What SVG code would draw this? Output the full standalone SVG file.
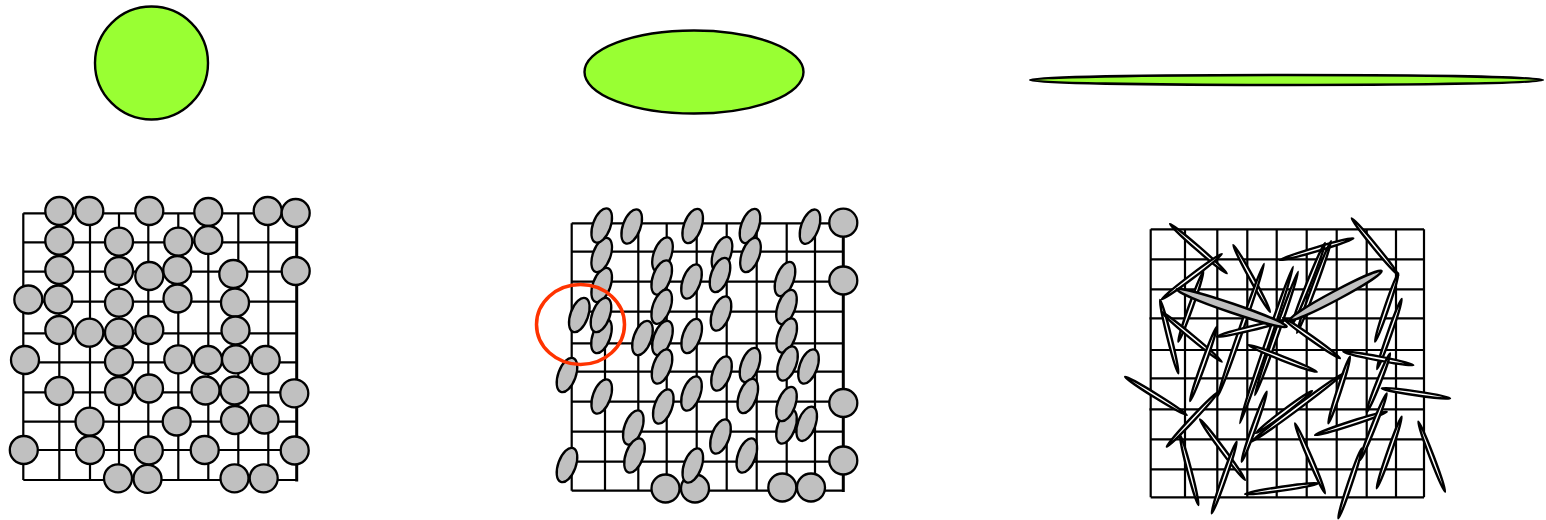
<svg xmlns="http://www.w3.org/2000/svg" width="1546" height="520" viewBox="0 0 1546 520">
<style>
.green{fill:#99ff33;stroke:#000;stroke-width:2.4}
.grid{fill:none;stroke:#000;stroke-width:2.2}
.edge{fill:none;stroke:#000;stroke-width:3}
.c{fill:#c0c0c0;stroke:#000;stroke-width:2.3}
.e{fill:#c0c0c0;stroke:#000;stroke-width:2.3}
.n{fill:#fff;stroke:#000;stroke-width:2.4}
.w{fill:#c0c0c0;stroke:#000;stroke-width:2.4}
.ring{fill:none;stroke:#ff3300;stroke-width:3.5}
</style>
<rect width="1546" height="520" fill="#fff"/>

<g id="shape-sphere"><circle class="green" cx="151.5" cy="63" r="56.5"/></g>
<g id="shape-ellipse"><ellipse class="green" cx="694" cy="72" rx="109.5" ry="41.5"/></g>
<g id="shape-needle"><ellipse class="green" cx="1286.5" cy="80" rx="256.5" ry="5"/></g>

<g id="panel-isotropic">
<path class="grid" d="M23.3 213.3V480M59.3 213.3V480M90 213.3V480M119 213.3V480M148.3 213.3V480M178.3 213.3V480M208.3 213.3V480M238.3 213.3V480M268.3 213.3V480M23.3 213.3H296.7M23.3 242.3H296.7M23.3 271.7H296.7M23.3 301.7H296.7M23.3 333.3H296.7M23.3 362.3H296.7M23.3 392.3H296.7M23.3 421.7H296.7M23.3 450H296.7M23.3 480H296.7"/>
<path class="edge" d="M296.7 212V481.5"/>
<circle class="c" cx="59.3" cy="211" r="14"/><circle class="c" cx="89.3" cy="211" r="14"/><circle class="c" cx="149.3" cy="211" r="14"/><circle class="c" cx="208.3" cy="212" r="14"/><circle class="c" cx="267.7" cy="211" r="14"/><circle class="c" cx="295.7" cy="213" r="14"/>
<circle class="c" cx="59.3" cy="240.7" r="14"/><circle class="c" cx="119" cy="241.7" r="14"/><circle class="c" cx="178.3" cy="241.7" r="14"/><circle class="c" cx="208.3" cy="240" r="14"/>
<circle class="c" cx="59.3" cy="270" r="14"/><circle class="c" cx="119" cy="271" r="14"/><circle class="c" cx="149.3" cy="276" r="14"/><circle class="c" cx="177.3" cy="270" r="14"/><circle class="c" cx="233.3" cy="274" r="14"/><circle class="c" cx="295.7" cy="271" r="14"/>
<circle class="c" cx="28.3" cy="299.5" r="14"/><circle class="c" cx="58.3" cy="299.5" r="14"/><circle class="c" cx="119" cy="302.7" r="14"/><circle class="c" cx="177.5" cy="298.5" r="14"/><circle class="c" cx="235" cy="302.7" r="14"/>
<circle class="c" cx="59.3" cy="330" r="14"/><circle class="c" cx="89.3" cy="332.7" r="14"/><circle class="c" cx="119" cy="332.7" r="14"/><circle class="c" cx="149.3" cy="330" r="14"/><circle class="c" cx="235.5" cy="330.5" r="14"/>
<circle class="c" cx="25" cy="360" r="14"/><circle class="c" cx="119" cy="361.7" r="14"/><circle class="c" cx="178.3" cy="359.3" r="14"/><circle class="c" cx="208" cy="360" r="14"/><circle class="c" cx="236" cy="359.3" r="14"/><circle class="c" cx="265.7" cy="360" r="14"/>
<circle class="c" cx="59.3" cy="391" r="14"/><circle class="c" cx="119" cy="391" r="14"/><circle class="c" cx="149" cy="388.5" r="14"/><circle class="c" cx="205.5" cy="390.5" r="14"/><circle class="c" cx="234.5" cy="390.5" r="14"/><circle class="c" cx="294.3" cy="393.3" r="14"/>
<circle class="c" cx="89.5" cy="421.7" r="14"/><circle class="c" cx="176.7" cy="421.5" r="14"/><circle class="c" cx="235" cy="420" r="14"/><circle class="c" cx="264.5" cy="419.5" r="14"/>
<circle class="c" cx="23.8" cy="450" r="14"/><circle class="c" cx="90" cy="450" r="14"/><circle class="c" cx="148.8" cy="450.5" r="14"/><circle class="c" cx="204.7" cy="450" r="14"/><circle class="c" cx="294.7" cy="450.5" r="14"/>
<circle class="c" cx="118" cy="478.3" r="14"/><circle class="c" cx="147.5" cy="478.8" r="14"/><circle class="c" cx="234.5" cy="478.3" r="14"/><circle class="c" cx="263.7" cy="478.3" r="14"/>
</g>

<g id="panel-aligned">
<path class="grid" d="M571.7 223.3V490.7M605 223.3V490.7M638.3 223.3V490.7M666.7 223.3V490.7M696.7 223.3V490.7M726.7 223.3V490.7M756.7 223.3V490.7M786.7 223.3V490.7M815 223.3V490.7M571.7 223.3H843.3M571.7 251.7H843.3M571.7 281.7H843.3M571.7 311.7H843.3M571.7 343.3H843.3M571.7 371.7H843.3M571.7 401.7H843.3M571.7 431.7H843.3M571.7 461.7H843.3M571.7 490.7H843.3"/>
<path class="edge" d="M843.3 222V492"/>
<circle class="c" cx="843.3" cy="222.7" r="14"/><circle class="c" cx="843.3" cy="280.5" r="14"/><circle class="c" cx="843.3" cy="403" r="14"/><circle class="c" cx="843.3" cy="460.5" r="14"/>
<circle class="c" cx="665.5" cy="488.5" r="14"/><circle class="c" cx="695" cy="488.5" r="14"/><circle class="c" cx="782.3" cy="487.5" r="14"/><circle class="c" cx="811" cy="487.5" r="14"/>
<g class="e">
<ellipse cx="601.7" cy="285" rx="8.8" ry="18" transform="rotate(20 601.7 285)"/>
<ellipse cx="601.7" cy="255" rx="8.8" ry="18" transform="rotate(20 601.7 255)"/>
<ellipse cx="601.7" cy="225.5" rx="8.8" ry="18" transform="rotate(20 601.7 225.5)"/>
<ellipse cx="631.7" cy="226.5" rx="8.8" ry="18" transform="rotate(20 631.7 226.5)"/>
<ellipse cx="692.7" cy="226" rx="8.8" ry="18" transform="rotate(20 692.7 226)"/>
<ellipse cx="750" cy="226" rx="8.8" ry="18" transform="rotate(20 750 226)"/>
<ellipse cx="810" cy="226.7" rx="8.8" ry="18" transform="rotate(20 810 226.7)"/>
<ellipse cx="662.5" cy="254.5" rx="8.8" ry="18" transform="rotate(20 662.5 254.5)"/>
<ellipse cx="722" cy="254" rx="8.8" ry="18" transform="rotate(20 722 254)"/>
<ellipse cx="750.5" cy="255" rx="8.8" ry="18" transform="rotate(20 750.5 255)"/>
<ellipse cx="661.7" cy="277.5" rx="8.8" ry="18" transform="rotate(20 661.7 277.5)"/>
<ellipse cx="691.5" cy="281.5" rx="8.8" ry="18" transform="rotate(20 691.5 281.5)"/>
<ellipse cx="720" cy="275" rx="8.8" ry="18" transform="rotate(20 720 275)"/>
<ellipse cx="785" cy="279" rx="8.8" ry="18" transform="rotate(20 785 279)"/>
<ellipse cx="661.7" cy="306.7" rx="8.8" ry="18" transform="rotate(20 661.7 306.7)"/>
<ellipse cx="721" cy="313.5" rx="8.8" ry="18" transform="rotate(20 721 313.5)"/>
<ellipse cx="786.5" cy="307" rx="8.8" ry="18" transform="rotate(20 786.5 307)"/>
<ellipse cx="601.5" cy="336" rx="8.8" ry="18" transform="rotate(20 601.5 336)"/>
<ellipse cx="579.3" cy="315" rx="8.8" ry="18" transform="rotate(20 579.3 315)"/>
<ellipse cx="601" cy="315" rx="8.8" ry="18" transform="rotate(20 601 315)"/>
<ellipse cx="642.5" cy="338" rx="8.8" ry="18" transform="rotate(20 642.5 338)"/>
<ellipse cx="662.5" cy="338" rx="8.8" ry="18" transform="rotate(20 662.5 338)"/>
<ellipse cx="691.7" cy="336" rx="8.8" ry="18" transform="rotate(20 691.7 336)"/>
<ellipse cx="786.7" cy="335.5" rx="8.8" ry="18" transform="rotate(20 786.7 335.5)"/>
<ellipse cx="567" cy="375" rx="8.8" ry="18" transform="rotate(20 567 375)"/>
<ellipse cx="662" cy="366.5" rx="8.8" ry="18" transform="rotate(20 662 366.5)"/>
<ellipse cx="721.5" cy="373.5" rx="8.8" ry="18" transform="rotate(20 721.5 373.5)"/>
<ellipse cx="750" cy="365" rx="8.8" ry="18" transform="rotate(20 750 365)"/>
<ellipse cx="787.5" cy="363.5" rx="8.8" ry="18" transform="rotate(20 787.5 363.5)"/>
<ellipse cx="808.5" cy="366.5" rx="8.8" ry="18" transform="rotate(20 808.5 366.5)"/>
<ellipse cx="601.7" cy="396.5" rx="8.8" ry="18" transform="rotate(20 601.7 396.5)"/>
<ellipse cx="663.3" cy="406.5" rx="8.8" ry="18" transform="rotate(20 663.3 406.5)"/>
<ellipse cx="691.5" cy="393.5" rx="8.8" ry="18" transform="rotate(20 691.5 393.5)"/>
<ellipse cx="747.8" cy="396" rx="8.8" ry="18" transform="rotate(20 747.8 396)"/>
<ellipse cx="786.5" cy="426.5" rx="8.8" ry="18" transform="rotate(20 786.5 426.5)"/>
<ellipse cx="786.5" cy="404" rx="8.8" ry="18" transform="rotate(20 786.5 404)"/>
<ellipse cx="633.3" cy="427.5" rx="8.8" ry="18" transform="rotate(20 633.3 427.5)"/>
<ellipse cx="720.5" cy="436.5" rx="8.8" ry="18" transform="rotate(20 720.5 436.5)"/>
<ellipse cx="806.7" cy="423.8" rx="8.8" ry="18" transform="rotate(20 806.7 423.8)"/>
<ellipse cx="567" cy="465" rx="8.8" ry="18" transform="rotate(20 567 465)"/>
<ellipse cx="634.5" cy="455.5" rx="8.8" ry="18" transform="rotate(20 634.5 455.5)"/>
<ellipse cx="692.8" cy="465.5" rx="8.8" ry="18" transform="rotate(20 692.8 465.5)"/>
<ellipse cx="746.8" cy="455.5" rx="8.8" ry="18" transform="rotate(20 746.8 455.5)"/>
</g>
<ellipse id="highlight" class="ring" cx="580.5" cy="324.5" rx="44" ry="40"/>
</g>

<g id="panel-random">
<path class="grid" d="M1150.7 229.3V497.3M1185 229.3V497.3M1217.3 229.3V497.3M1247.3 229.3V497.3M1276.7 229.3V497.3M1306.7 229.3V497.3M1336.7 229.3V497.3M1366.7 229.3V497.3M1396 229.3V497.3M1424 229.3V497.3M1150.7 229.3H1424M1150.7 259.3H1425M1150.7 289.3H1425M1149.3 318.3H1424M1150.7 350H1424M1150.7 378.3H1425M1149.3 409.3H1424M1150.7 439.3H1424M1150.7 469.3H1424M1150.7 497.3H1424"/>
<g>
<ellipse class="n" cx="1198.4" cy="248.7" rx="37.6" ry="2" transform="rotate(41 1198.4 248.7)"/>
<ellipse class="n" cx="1191.7" cy="276.7" rx="37.6" ry="2" transform="rotate(-37 1191.7 276.7)"/>
<ellipse class="n" cx="1190.8" cy="306.7" rx="37.2" ry="2" transform="rotate(-70.3 1190.8 306.7)"/>
<ellipse class="n" cx="1169.2" cy="336.7" rx="37.8" ry="2" transform="rotate(76 1169.2 336.7)"/>
<ellipse class="n" cx="1191.7" cy="336.9" rx="39" ry="2" transform="rotate(39.6 1191.7 336.9)"/>
<ellipse class="n" cx="1251.7" cy="278.4" rx="38.1" ry="2" transform="rotate(61.2 1251.7 278.4)"/>
<ellipse class="n" cx="1241" cy="330" rx="69.9" ry="2" transform="rotate(-70.8 1241 330)"/>
<ellipse class="n" cx="1276.5" cy="333.5" rx="65.2" ry="2" transform="rotate(-70.7 1276.5 333.5)"/>
<ellipse class="n" cx="1266.5" cy="345" rx="82.4" ry="2" transform="rotate(-71.2 1266.5 345)"/>
<ellipse class="n" cx="1316.7" cy="249.2" rx="38.2" ry="2" transform="rotate(-16.5 1316.7 249.2)"/>
<ellipse class="n" cx="1314" cy="287" rx="49" ry="2" transform="rotate(-69.7 1314 287)"/>
<ellipse class="n" cx="1308.5" cy="284" rx="44.2" ry="2" transform="rotate(-68.1 1308.5 284)"/>
<ellipse class="n" cx="1375" cy="246.7" rx="36.7" ry="2" transform="rotate(50.6 1375 246.7)"/>
<ellipse class="n" cx="1386.7" cy="307.5" rx="36.1" ry="2" transform="rotate(-71.2 1386.7 307.5)"/>
<ellipse class="n" cx="1389.4" cy="334" rx="37.1" ry="2" transform="rotate(-70.6 1389.4 334)"/>
<ellipse class="n" cx="1250.9" cy="328.4" rx="35.2" ry="2" transform="rotate(-13.7 1250.9 328.4)"/>
<ellipse class="n" cx="1311.5" cy="338.2" rx="34.9" ry="2" transform="rotate(35.3 1311.5 338.2)"/>
<ellipse class="n" cx="1282.5" cy="358.4" rx="36.7" ry="2" transform="rotate(21.3 1282.5 358.4)"/>
<ellipse class="n" cx="1378.3" cy="358.4" rx="35.6" ry="2" transform="rotate(10.8 1378.3 358.4)"/>
<ellipse class="n" cx="1339.2" cy="390" rx="35" ry="2" transform="rotate(-72 1339.2 390)"/>
<ellipse class="n" cx="1378.4" cy="382.7" rx="31.6" ry="2" transform="rotate(-68.3 1378.4 382.7)"/>
<ellipse class="n" cx="1415.9" cy="393.3" rx="34.5" ry="2" transform="rotate(8.3 1415.9 393.3)"/>
<ellipse class="n" cx="1155.9" cy="395.9" rx="36.3" ry="2" transform="rotate(31.8 1155.9 395.9)"/>
<ellipse class="n" cx="1192.5" cy="419.2" rx="37.7" ry="2" transform="rotate(-46.8 1192.5 419.2)"/>
<ellipse class="n" cx="1189.2" cy="470" rx="36.2" ry="2" transform="rotate(75.3 1189.2 470)"/>
<ellipse class="n" cx="1222.5" cy="449.7" rx="37.8" ry="2" transform="rotate(53.4 1222.5 449.7)"/>
<ellipse class="n" cx="1224.2" cy="477.5" rx="37.9" ry="2" transform="rotate(-70.8 1224.2 477.5)"/>
<ellipse class="n" cx="1281.7" cy="488.7" rx="37" ry="2" transform="rotate(-8.3 1281.7 488.7)"/>
<ellipse class="n" cx="1310" cy="458.3" rx="38.1" ry="2" transform="rotate(66.8 1310 458.3)"/>
<ellipse class="n" cx="1350.9" cy="423.4" rx="37.7" ry="2" transform="rotate(-18 1350.9 423.4)"/>
<ellipse class="n" cx="1297.5" cy="407.5" rx="57.2" ry="2" transform="rotate(-36.7 1297.5 407.5)"/>
<ellipse class="n" cx="1284" cy="412" rx="35" ry="2" transform="rotate(-36.9 1284 412)"/>
<ellipse class="n" cx="1254.2" cy="426.7" rx="37.2" ry="2" transform="rotate(-70.3 1254.2 426.7)"/>
<ellipse class="n" cx="1350" cy="483.3" rx="36.9" ry="2" transform="rotate(-71.5 1350 483.3)"/>
<ellipse class="n" cx="1373.4" cy="426.7" rx="35.9" ry="2" transform="rotate(-68.2 1373.4 426.7)"/>
<ellipse class="n" cx="1389.2" cy="452.5" rx="37.9" ry="2" transform="rotate(-70.8 1389.2 452.5)"/>
<ellipse class="n" cx="1431.7" cy="456.7" rx="37.5" ry="2" transform="rotate(69.1 1431.7 456.7)"/>
<ellipse class="n" cx="1203.4" cy="363.9" rx="39.5" ry="2" transform="rotate(-70.2 1203.4 363.9)"/>
<ellipse class="w" cx="1231.7" cy="308" rx="58.1" ry="4.5" transform="rotate(18.8 1231.7 308)"/>
<ellipse class="w" cx="1335.8" cy="295.5" rx="52" ry="4.5" transform="rotate(-28.1 1335.8 295.5)"/>
</g>
</g>
</svg>
